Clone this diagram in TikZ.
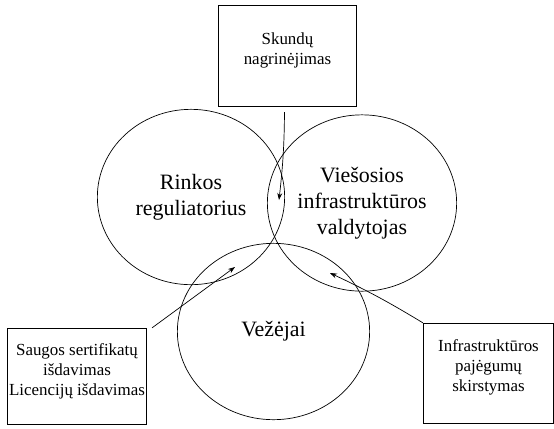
\documentclass[tikz,border=0pt]{standalone}
\usepackage{fontspec}
\setmainfont{Liberation Serif}
\usetikzlibrary{shapes.geometric,arrows.meta}

\tikzset{
  actor/.style={draw, ellipse, inner sep=0pt, align=center, line width=0.7pt,
    font=\fontsize{22}{26}\selectfont},
  task/.style={draw, rectangle, inner sep=0pt, line width=0.7pt},
  tasktext/.style={align=center, font=\fontsize{17}{20}\selectfont},
}

\begin{document}
\begin{tikzpicture}[x=1bp, y=-1bp, >={Stealth[length=7pt,width=5pt]}]
        \useasboundingbox (0,0) rectangle (554,428);

        \node[actor, minimum width=188, minimum height=176] (reg) at (191,197) {Rinkos\\reguliatorius};
        \node[actor, minimum width=190, minimum height=177] (valdyt) at (362,203) {Viešosios\\infrastruktūros\\valdytojas};
        \node[actor, minimum width=193, minimum height=177] (vez) at (273.5,331.5) {Vežėjai};

        \node[task, minimum width=139, minimum height=102] (skund) at (287.5,56) {};
        \node[tasktext] (skundtxt) at ([yshift=6pt]skund.center) {Skundų\\nagrinėjimas};
        \node[task, minimum width=140, minimum height=97] (lic) at (77,376.5) {};
        \node[tasktext] (lictxt) at ([yshift=5pt]lic.center) {Saugos sertifikatų\\išdavimas\\Licencijų išdavimas};
        \node[task, minimum width=131, minimum height=101] (skirst) at (488.5,373.5) {};
        \node[tasktext] (skirsttxt) at ([yshift=6pt]skirst.center) {Infrastruktūros\\pajėgumų\\skirstymas};

        \coordinate (skundend) at (279,200);
        \coordinate (licend) at (235,267);
        \coordinate (skirstend) at (330,273);

        \draw[->, line width=0.7pt, shorten <=5pt] ([xshift=-3pt]skund.south) to[bend left=3] (skundend);
        \draw[->, line width=0.7pt] ([xshift=5pt]lic.north east) -- (licend);
        \draw[->, line width=0.7pt] (skirst.north west) to[bend right=3] (skirstend);
    \end{tikzpicture}
\end{document}
